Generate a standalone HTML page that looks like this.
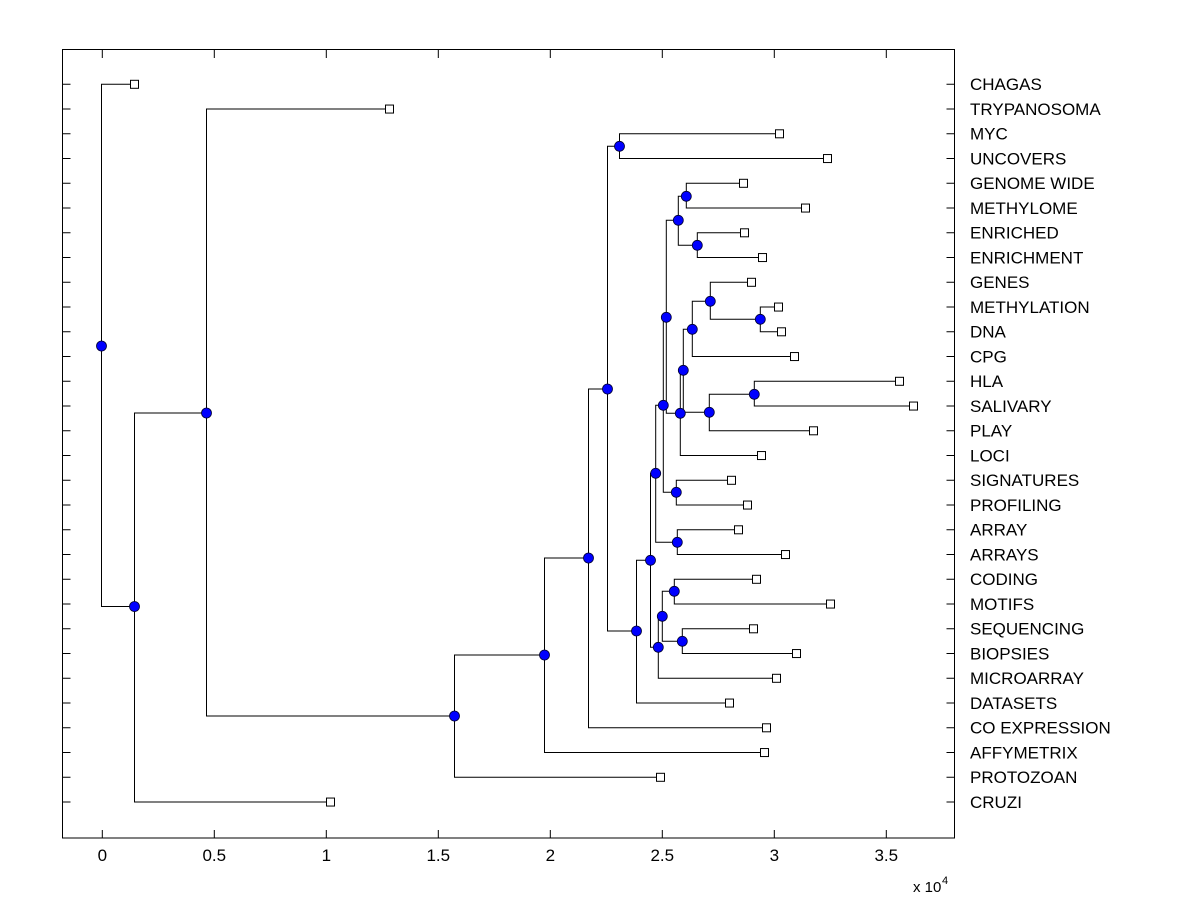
<!DOCTYPE html>
<html><head><meta charset="utf-8"><style>
html,body{margin:0;padding:0;background:#fff}
svg{display:block}
text{font-family:"Liberation Sans",Arial,sans-serif;font-size:17px;fill:#000}
</style></head><body>
<svg width="1200" height="900" viewBox="0 0 1200 900" xmlns="http://www.w3.org/2000/svg">
<rect x="0" y="0" width="1200" height="900" fill="#fff"/>
<g stroke="#000" stroke-width="1" fill="none">
<rect x="62.5" y="49.5" width="892" height="788.5"/>
<path d="M102.3 838v-8M214.3 838v-8M326.3 838v-8M438.3 838v-8M550.3 838v-8M662.3 838v-8M774.3 838v-8M886.3 838v-8
M102.3 50v8M214.3 50v8M326.3 50v8M438.3 50v8M550.3 50v8M662.3 50v8M774.3 50v8M886.3 50v8"/>
<path d="M62.5 84.3h8M62.5 109.05h8M62.5 133.8h8M62.5 158.55h8M62.5 183.3h8M62.5 208.05h8M62.5 232.8h8M62.5 257.55h8M62.5 282.3h8M62.5 307.05h8M62.5 331.8h8M62.5 356.55h8M62.5 381.3h8M62.5 406.05h8M62.5 430.8h8M62.5 455.55h8M62.5 480.3h8M62.5 505.05h8M62.5 529.8h8M62.5 554.55h8M62.5 579.3h8M62.5 604.05h8M62.5 628.8h8M62.5 653.55h8M62.5 678.3h8M62.5 703.05h8M62.5 727.8h8M62.5 752.55h8M62.5 777.3h8M62.5 802.05h8
M954.5 84.3h-8M954.5 109.05h-8M954.5 133.8h-8M954.5 158.55h-8M954.5 183.3h-8M954.5 208.05h-8M954.5 232.8h-8M954.5 257.55h-8M954.5 282.3h-8M954.5 307.05h-8M954.5 331.8h-8M954.5 356.55h-8M954.5 381.3h-8M954.5 406.05h-8M954.5 430.8h-8M954.5 455.55h-8M954.5 480.3h-8M954.5 505.05h-8M954.5 529.8h-8M954.5 554.55h-8M954.5 579.3h-8M954.5 604.05h-8M954.5 628.8h-8M954.5 653.55h-8M954.5 678.3h-8M954.5 703.05h-8M954.5 727.8h-8M954.5 752.55h-8M954.5 777.3h-8M954.5 802.05h-8"/>
<path d="
M134.5 84.3H101.5V606.5H134.5
M206.5 413H134.5V802H330.5
M389.5 109H206.5V716H454.5
M544.5 655H454.5V777.3H660.5
M588.5 558H544.5V752.5H764.5
M607.5 389H588.5V727.8H766.5
M619.5 146.3H607.5V631H636.5
M779.5 133.8H619.5V158.5H827.5
M650.5 560.3H636.5V703H729.5
M655.7 473.3H650.5V647.3H658.3
M662.3 616.3H658.3V678.3H776.5
M674.3 591.3H662.3V641.3H682.3
M756.5 579.3H674.3V604H830.5
M753.5 628.8H682.3V653.5H796.5
M663.3 405.3H655.7V542.3H677.3
M738.5 529.8H677.3V554.5H785.5
M666.3 317.3H663.3V492.3H676.3
M731.5 480.3H676.3V505H747.5
M678.3 220.3H666.3V413.3H680.3
M686.3 196.3H678.3V245.3H697.3
M743.5 183.3H686.3V208H805.5
M744.5 232.8H697.3V257.5H762.5
M683.3 370.3H680.3V455.5H761.5
M692.3 329.3H683.3V412.3H709.3
M710.3 301.3H692.3V356.5H794.5
M751.5 282.3H710.3V319.3H760.3
M778.5 307H760.3V331.8H781.5
M754.3 394.3H709.3V430.8H813.5
M899.5 381.3H754.3V406H913.5
"/>
</g>
<g fill="#fff" stroke="#000" stroke-width="1">
<rect x="130.5" y="80.3" width="8" height="8"/>
<rect x="385.5" y="105.05" width="8" height="8"/>
<rect x="775.5" y="129.8" width="8" height="8"/>
<rect x="823.5" y="154.55" width="8" height="8"/>
<rect x="739.5" y="179.3" width="8" height="8"/>
<rect x="801.5" y="204.05" width="8" height="8"/>
<rect x="740.5" y="228.8" width="8" height="8"/>
<rect x="758.5" y="253.55" width="8" height="8"/>
<rect x="747.5" y="278.3" width="8" height="8"/>
<rect x="774.5" y="303.05" width="8" height="8"/>
<rect x="777.5" y="327.8" width="8" height="8"/>
<rect x="790.5" y="352.55" width="8" height="8"/>
<rect x="895.5" y="377.3" width="8" height="8"/>
<rect x="909.5" y="402.05" width="8" height="8"/>
<rect x="809.5" y="426.8" width="8" height="8"/>
<rect x="757.5" y="451.55" width="8" height="8"/>
<rect x="727.5" y="476.3" width="8" height="8"/>
<rect x="743.5" y="501.05" width="8" height="8"/>
<rect x="734.5" y="525.8" width="8" height="8"/>
<rect x="781.5" y="550.55" width="8" height="8"/>
<rect x="752.5" y="575.3" width="8" height="8"/>
<rect x="826.5" y="600.05" width="8" height="8"/>
<rect x="749.5" y="624.8" width="8" height="8"/>
<rect x="792.5" y="649.55" width="8" height="8"/>
<rect x="772.5" y="674.3" width="8" height="8"/>
<rect x="725.5" y="699.05" width="8" height="8"/>
<rect x="762.5" y="723.8" width="8" height="8"/>
<rect x="760.5" y="748.55" width="8" height="8"/>
<rect x="656.5" y="773.3" width="8" height="8"/>
<rect x="326.5" y="798.05" width="8" height="8"/>
</g>
<g fill="#0000ff" stroke="#000033" stroke-width="0.8">
<circle cx="101.5" cy="346" r="5"/>
<circle cx="134.5" cy="606.5" r="5"/>
<circle cx="206.5" cy="413" r="5"/>
<circle cx="454.5" cy="716" r="5"/>
<circle cx="544.5" cy="655" r="5"/>
<circle cx="588.5" cy="558" r="5"/>
<circle cx="607.5" cy="389" r="5"/>
<circle cx="619.5" cy="146.3" r="5"/>
<circle cx="636.5" cy="631" r="5"/>
<circle cx="650.5" cy="560.3" r="5"/>
<circle cx="655.7" cy="473.3" r="5"/>
<circle cx="658.3" cy="647.3" r="5"/>
<circle cx="662.3" cy="616.3" r="5"/>
<circle cx="674.3" cy="591.3" r="5"/>
<circle cx="682.3" cy="641.3" r="5"/>
<circle cx="677.3" cy="542.3" r="5"/>
<circle cx="663.3" cy="405.3" r="5"/>
<circle cx="676.3" cy="492.3" r="5"/>
<circle cx="666.3" cy="317.3" r="5"/>
<circle cx="678.3" cy="220.3" r="5"/>
<circle cx="686.3" cy="196.3" r="5"/>
<circle cx="697.3" cy="245.3" r="5"/>
<circle cx="680.3" cy="413.3" r="5"/>
<circle cx="683.3" cy="370.3" r="5"/>
<circle cx="692.3" cy="329.3" r="5"/>
<circle cx="710.3" cy="301.3" r="5"/>
<circle cx="760.3" cy="319.3" r="5"/>
<circle cx="709.3" cy="412.3" r="5"/>
<circle cx="754.3" cy="394.3" r="5"/>
</g>
<g>
<text x="970" y="90">CHAGAS</text>
<text x="970" y="114.8">TRYPANOSOMA</text>
<text x="970" y="139.5">MYC</text>
<text x="970" y="164.3">UNCOVERS</text>
<text x="970" y="189">GENOME WIDE</text>
<text x="970" y="213.8">METHYLOME</text>
<text x="970" y="238.5">ENRICHED</text>
<text x="970" y="263.3">ENRICHMENT</text>
<text x="970" y="288">GENES</text>
<text x="970" y="312.8">METHYLATION</text>
<text x="970" y="337.5">DNA</text>
<text x="970" y="362.3">CPG</text>
<text x="970" y="387">HLA</text>
<text x="970" y="411.8">SALIVARY</text>
<text x="970" y="436.5">PLAY</text>
<text x="970" y="461.3">LOCI</text>
<text x="970" y="486">SIGNATURES</text>
<text x="970" y="510.8">PROFILING</text>
<text x="970" y="535.5">ARRAY</text>
<text x="970" y="560.3">ARRAYS</text>
<text x="970" y="585">CODING</text>
<text x="970" y="609.8">MOTIFS</text>
<text x="970" y="634.5">SEQUENCING</text>
<text x="970" y="659.3">BIOPSIES</text>
<text x="970" y="684">MICROARRAY</text>
<text x="970" y="708.8">DATASETS</text>
<text x="970" y="733.5">CO EXPRESSION</text>
<text x="970" y="758.3">AFFYMETRIX</text>
<text x="970" y="783">PROTOZOAN</text>
<text x="970" y="807.8">CRUZI</text>
</g>
<g text-anchor="middle" style="font-size:16px">
<text x="102.3" y="861">0</text>
<text x="214.3" y="861">0.5</text>
<text x="326.3" y="861">1</text>
<text x="438.3" y="861">1.5</text>
<text x="550.3" y="861">2</text>
<text x="662.3" y="861">2.5</text>
<text x="774.3" y="861">3</text>
<text x="886.3" y="861">3.5</text>
</g>
<text x="913" y="892" style="font-size:15px">x 10</text>
<text x="942" y="884" style="font-size:11px">4</text>
</svg>
</body></html>
